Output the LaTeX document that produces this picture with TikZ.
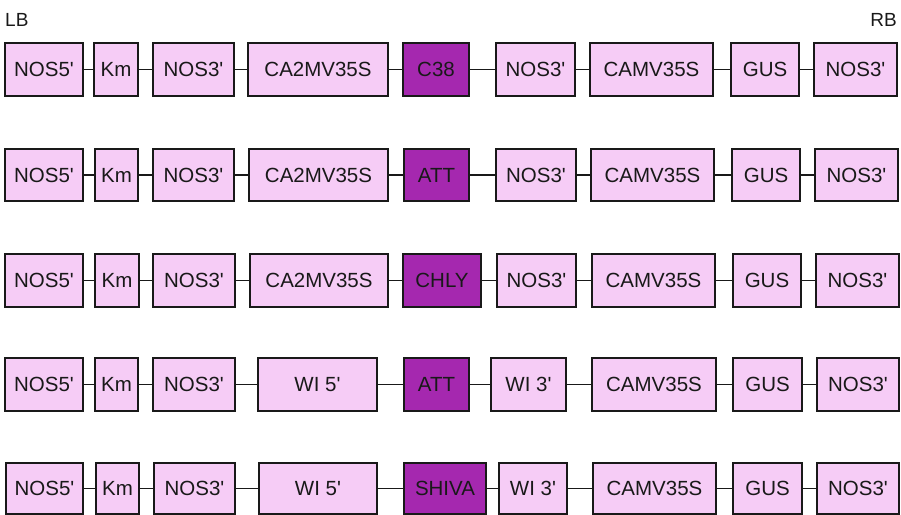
\documentclass[tikz,border=0pt]{standalone}
\usepackage{fontspec}
\setmainfont{Liberation Sans}[Ligatures=TeXOff]
\definecolor{lightpink}{RGB}{246,204,246}
\definecolor{darkpurple}{RGB}{165,40,175}
\definecolor{inkc}{RGB}{25,25,25}
\tikzset{
  gene/.style={draw=inkc, line width=1.7pt, fill=lightpink, inner sep=0pt, text=inkc,
    font=\fontsize{20.5}{24}\selectfont},
  insert/.style={gene, fill=darkpurple},
  link/.style={draw=inkc, line width=1.8pt},
  corner/.style={text=inkc, font=\fontsize{19}{22}\selectfont, inner sep=0pt}
}
\newcommand\bx[5]{%
  \pgfmathsetmacro\bw{#3-#2}\pgfmathsetmacro\bxc{(#2+#3)/2}%
  \node[#5, minimum width=\bw pt, minimum height=\bh pt] (#1) at (\bxc,\yc) {#4};}
\newcommand\chain[1]{%
  \foreach \i [evaluate=\i as \j using int(\i+1)] in {1,...,8} {\draw[link] (#1\i.east) -- (#1\j.west);}}
\begin{document}
\begin{tikzpicture}[x=1pt,y=-1pt]
\useasboundingbox (0,0) rectangle (901,514);
\node[corner, anchor=north west] (lb) at (5,13) {LB};
\node[corner, anchor=north east] (rb) at (897,13) {RB};
% row 1
\def\yc{69.5}\def\bh{53}
\bx{a1}{5}{83}{NOS5'}{gene}
\bx{a2}{94}{138}{Km}{gene}
\bx{a3}{153}{234}{NOS3'}{gene}
\bx{a4}{248}{388}{CA2MV35S}{gene}
\bx{a5}{403}{469}{C38}{insert}
\bx{a6}{496}{575}{NOS3'}{gene}
\bx{a7}{590}{713}{CAMV35S}{gene}
\bx{a8}{731}{799}{GUS}{gene}
\bx{a9}{814}{897}{NOS3'}{gene}
\chain{a}
% row 2
\def\yc{175}\def\bh{52}
\bx{b1}{5}{83}{NOS5'}{gene}
\bx{b2}{95}{138}{Km}{gene}
\bx{b3}{153}{234}{NOS3'}{gene}
\bx{b4}{249}{388}{CA2MV35S}{gene}
\bx{b5}{404}{469}{ATT}{insert}
\bx{b6}{496}{576}{NOS3'}{gene}
\bx{b7}{591}{714}{CAMV35S}{gene}
\bx{b8}{732}{800}{GUS}{gene}
\bx{b9}{815}{898}{NOS3'}{gene}
\chain{b}
% row 3
\def\yc{280.5}\def\bh{53}
\bx{c1}{5}{83}{NOS5'}{gene}
\bx{c2}{95}{139}{Km}{gene}
\bx{c3}{153}{235}{NOS3'}{gene}
\bx{c4}{250}{388}{CA2MV35S}{gene}
\bx{c5}{403}{481}{CHLY}{insert}
\bx{c6}{497}{576}{NOS3'}{gene}
\bx{c7}{592}{715}{CAMV35S}{gene}
\bx{c8}{733}{801}{GUS}{gene}
\bx{c9}{816}{899}{NOS3'}{gene}
\chain{c}
% row 4
\def\yc{384.5}\def\bh{53}
\bx{d1}{5}{83}{NOS5'}{gene}
\bx{d2}{95}{138}{Km}{gene}
\bx{d3}{153}{235}{NOS3'}{gene}
\bx{d4}{258}{377}{WI 5'}{gene}
\bx{d5}{404}{469}{ATT}{insert}
\bx{d6}{491}{566}{WI 3'}{gene}
\bx{d7}{592}{716}{CAMV35S}{gene}
\bx{d8}{733}{802}{GUS}{gene}
\bx{d9}{817}{899}{NOS3'}{gene}
\chain{d}
% row 5
\def\yc{488.5}\def\bh{51}
\bx{e1}{6}{83}{NOS5'}{gene}
\bx{e2}{96}{139}{Km}{gene}
\bx{e3}{154}{235}{NOS3'}{gene}
\bx{e4}{259}{377}{WI 5'}{gene}
\bx{e5}{404}{486}{SHIVA}{insert}
\bx{e6}{499}{567}{WI 3'}{gene}
\bx{e7}{593}{716}{CAMV35S}{gene}
\bx{e8}{733}{802}{GUS}{gene}
\bx{e9}{817}{899}{NOS3'}{gene}
\chain{e}
\end{tikzpicture}
\end{document}
